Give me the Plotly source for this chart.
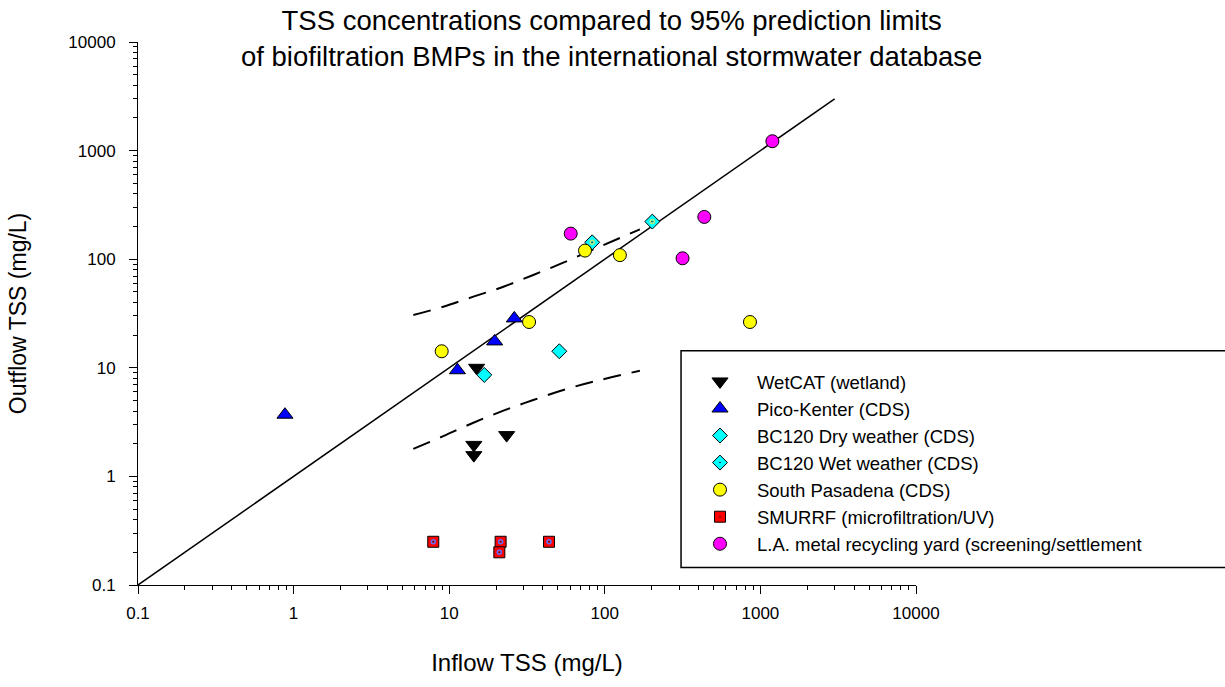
import plotly.graph_objects as go

# ---------------- data ----------------
wetcat_x = [15.0, 14.4, 14.4, 23.4]
wetcat_y = [10.0, 1.95, 1.57, 2.4]

pico_x = [0.88, 11.3, 19.6, 26.2]
pico_y = [3.7, 9.5, 17.5, 28.5]

bc_dry_x = [16.8, 51.0]
bc_dry_y = [8.6, 14.2]

bc_wet_x = [83.0, 202.0]
bc_wet_y = [143.0, 222.0]

spas_x = [8.95, 32.6, 74.6, 125.0, 857.0]
spas_y = [14.2, 26.4, 120.0, 109.0, 26.4]

smurrf_x = [7.9, 21.4, 21.0, 43.8]
smurrf_y = [0.25, 0.25, 0.20, 0.25]

la_x = [60.4, 316.0, 436.0, 1194.0]
la_y = [172.0, 102.0, 245.0, 1220.0]

one_to_one_x = [0.1, 3000.0]
one_to_one_y = [0.1, 3000.0]

limit_x = [5.88, 9.16, 14.3, 22.3, 34.7, 54.1, 84.4, 168.0]
upper_y = [30.6, 36.5, 45.2, 55.8, 71.6, 92.9, 123.0, 188.0]
lower_y = [1.79, 2.35, 3.12, 4.03, 5.05, 6.25, 7.45, 9.4]

tick_vals = [0.1, 1, 10, 100, 1000, 10000]
tick_text = ["0.1", "1", "10", "100", "1000", "10000"]

title_text = ("TSS concentrations compared to 95% prediction limits<br>"
              "of biofiltration BMPs in the international stormwater database")
x_title = "Inflow TSS (mg/L)"
y_title = "Outflow TSS (mg/L)"

# ---------------- figure ----------------
FONT = "Arial, 'Liberation Sans', Helvetica, sans-serif"
fig = go.Figure()

fig.add_trace(go.Scatter(x=one_to_one_x, y=one_to_one_y, mode="lines",
                         line=dict(color="black", width=1.5),
                         showlegend=False, hoverinfo="skip"))
fig.add_trace(go.Scatter(x=limit_x, y=upper_y, mode="lines",
                         line=dict(color="black", width=2, dash="18px,11px", shape="spline"),
                         showlegend=False, hoverinfo="skip"))
fig.add_trace(go.Scatter(x=limit_x, y=lower_y, mode="lines",
                         line=dict(color="black", width=2, dash="18px,11px", shape="spline"),
                         showlegend=False, hoverinfo="skip"))

edge = dict(color="black", width=1)
series = [
    ("WetCAT (wetland)", wetcat_x, wetcat_y, "triangle-down", "#000000", 14, False),
    ("Pico-Kenter (CDS)", pico_x, pico_y, "triangle-up", "#0000FF", 14, False),
    ("BC120 Dry weather (CDS)", bc_dry_x, bc_dry_y, "diamond", "#00FFFF", 11.5, False),
    ("BC120 Wet weather (CDS)", bc_wet_x, bc_wet_y, "diamond-dot", "#00FFFF", 11.5, True),
    ("South Pasadena (CDS)", spas_x, spas_y, "circle", "#FFFF00", 13, False),
    ("SMURRF (microfiltration/UV)", smurrf_x, smurrf_y, "square-dot", "#FF0000", 11, True),
    ("L.A. metal recycling yard (screening/settlement", la_x, la_y, "circle", "#FF00FF", 13, False),
]
for name, xs, ys, sym, col, sz, dotted in series:
    fig.add_trace(go.Scatter(x=xs, y=ys, mode="markers", name=name,
                             marker=dict(symbol=sym, color=col, size=sz, line=edge),
                             cliponaxis=False))
    if dotted:
        # small centre ring drawn on top of each marker of this series
        fig.add_trace(go.Scatter(x=xs, y=ys, mode="markers", showlegend=False,
                                 hoverinfo="skip", cliponaxis=False,
                                 marker=dict(symbol="circle-open", size=4,
                                             line=dict(color="black", width=1.5))))

minor_vals = [k * 10.0 ** e for e in range(-1, 4) for k in range(2, 10)]

axis_common = dict(
    type="log", range=[-1, 4],
    showline=True, linecolor="black", linewidth=1,
    ticks="outside", ticklen=8, tickwidth=1, tickcolor="black",
    tickvals=tick_vals, ticktext=tick_text,
    tickfont=dict(family=FONT, size=17, color="black"),
    showgrid=False, zeroline=False, mirror=False,
    minor=dict(ticks="outside", ticklen=4, tickwidth=1, tickcolor="black",
               tickvals=minor_vals, showgrid=False),
)

fig.update_layout(
    width=1225, height=687, autosize=False,
    margin=dict(l=138, r=309, t=42, b=102),
    paper_bgcolor="white", plot_bgcolor="white",
    font=dict(family=FONT, color="black"),
    xaxis=dict(**axis_common, ticklabelstandoff=5,
               title=dict(text=x_title, font=dict(family=FONT, size=24, color="black"),
                          standoff=31)),
    yaxis=dict(**axis_common, ticklabelstandoff=10,
               title=dict(text=y_title, font=dict(family=FONT, size=23, color="black"),
                          standoff=35)),
    showlegend=True,
    legend=dict(x=0.7005, y=0.409, xanchor="left", yanchor="top",
                bgcolor="rgba(0,0,0,0)", borderwidth=0,
                font=dict(family=FONT, size=18.5, color="black"),
                itemwidth=64, tracegroupgap=0),
    shapes=[dict(type="rect", xref="paper", yref="paper",
                 x0=0.698, x1=1.41, y0=0.032, y1=0.4315,
                 line=dict(color="black", width=1.5), fillcolor="rgba(0,0,0,0)")],
    annotations=[dict(text=title_text, xref="paper", yref="paper",
                      x=0.609, y=1.0064, xanchor="center", yanchor="middle",
                      align="center", showarrow=False,
                      font=dict(family=FONT, size=27.5, color="black"))],
)

fig.write_html("out.html", config={"displayModeBar": False},
               post_script="document.body.style.margin='0px';")
